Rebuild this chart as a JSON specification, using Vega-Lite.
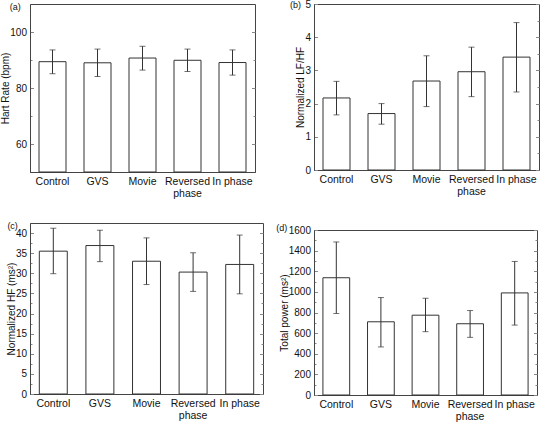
{
  "$schema": "https://vega.github.io/schema/vega-lite/v6.json",
  "background": "white",
  "padding": {"left": 0, "top": -2, "right": 2, "bottom": 0},
  "config": {
    "font": "Liberation Sans",
    "view": {"stroke": "#444", "strokeWidth": 1},
    "axis": {
      "grid": false,
      "domainColor": "#444",
      "tickColor": "#888",
      "labelFont": "Liberation Sans",
      "labelFontSize": 10.5,
      "labelColor": "#111",
      "labelLineHeight": 12,
      "titleFont": "Liberation Sans",
      "titleFontSize": 10,
      "titleFontWeight": "normal",
      "titleColor": "#111",
      "labelFlush": false,
      "labelOverlap": false
    },
    "axisY": {"labelFontSize": 10, "labelPadding": 7, "titlePadding": -1},
    "title": {"fontSize": 9, "fontWeight": "normal", "anchor": "start", "frame": "bounds", "color": "#111", "font": "Liberation Sans", "offset": -8}
  },
  "datasets": {
    "hr": [
      {"cond": "Control", "mean": 89.4, "lo": 85.1, "hi": 93.6},
      {"cond": "GVS", "mean": 89.0, "lo": 84.1, "hi": 93.9},
      {"cond": "Movie", "mean": 90.7, "lo": 86.4, "hi": 94.9},
      {"cond": "Reversed phase", "mean": 89.9, "lo": 85.9, "hi": 93.9},
      {"cond": "In phase", "mean": 89.1, "lo": 84.6, "hi": 93.6}
    ],
    "lfhf": [
      {"cond": "Control", "mean": 2.17, "lo": 1.66, "hi": 2.67},
      {"cond": "GVS", "mean": 1.70, "lo": 1.38, "hi": 2.00},
      {"cond": "Movie", "mean": 2.68, "lo": 1.91, "hi": 3.44},
      {"cond": "Reversed phase", "mean": 2.96, "lo": 2.21, "hi": 3.70},
      {"cond": "In phase", "mean": 3.40, "lo": 2.35, "hi": 4.44}
    ],
    "hf": [
      {"cond": "Control", "mean": 35.5, "lo": 29.9, "hi": 41.2},
      {"cond": "GVS", "mean": 36.9, "lo": 32.9, "hi": 40.7},
      {"cond": "Movie", "mean": 33.0, "lo": 27.2, "hi": 38.8},
      {"cond": "Reversed phase", "mean": 30.3, "lo": 25.5, "hi": 35.1},
      {"cond": "In phase", "mean": 32.2, "lo": 24.9, "hi": 39.5}
    ],
    "tp": [
      {"cond": "Control", "mean": 1137, "lo": 790, "hi": 1484},
      {"cond": "GVS", "mean": 710, "lo": 466, "hi": 945},
      {"cond": "Movie", "mean": 774, "lo": 614, "hi": 938},
      {"cond": "Reversed phase", "mean": 691, "lo": 559, "hi": 819},
      {"cond": "In phase", "mean": 990, "lo": 678, "hi": 1295}
    ]
  },
  "spacing": 11,
  "hconcat": [
    {
      "spacing": 22,
      "vconcat": [
        {
          "width": 225, "height": 168,
          "title": {"text": "(a)", "dx": 9},
          "data": {"name": "hr"},
          "layer": [
            {
              "mark": {"type": "bar", "fill": "white", "stroke": "#333", "strokeWidth": 1},
              "encoding": {
                "x": {"field": "cond", "type": "nominal", "sort": null, "scale": {"paddingInner": 0.4, "paddingOuter": 0.2},
                      "axis": {"title": null, "labelAngle": 0, "tickSize": -3, "labelPadding": 7, "labelExpr": "datum.label == 'Reversed phase' ? ['Reversed', 'phase'] : datum.label"}},
                "y": {"field": "mean", "type": "quantitative", "scale": {"domain": [50, 110], "nice": false, "zero": false},
                      "axis": {"title": "Hart Rate (bpm)", "values": [60, 70, 80, 90, 100],
                               "labelExpr": "(datum.value == 60 || datum.value == 80 || datum.value == 100) ? datum.label : ''",
                               "tickSize": {"condition": {"test": "datum.value % 20 == 0", "value": -3.5}, "value": -2}}},
                "y2": {"datum": 50}
              }
            },
            {
              "mark": {"type": "errorbar", "ticks": {"size": 6, "color": "#333"}, "rule": {"color": "#333"}},
              "encoding": {
                "x": {"field": "cond", "type": "nominal", "sort": null},
                "y": {"field": "lo", "type": "quantitative",
                      "axis": {"orient": "right", "title": null, "labels": false, "domain": false, "values": [60, 70, 80, 90, 100],
                               "tickSize": {"condition": {"test": "datum.value % 20 == 0", "value": -3.5}, "value": -2}}},
                "y2": {"field": "hi"}
              }
            }
          ],
          "resolve": {"axis": {"y": "independent"}}
        },
        {
          "width": 233, "height": 171,
          "title": {"text": "(c)", "dx": 1},
          "data": {"name": "hf"},
          "layer": [
            {
              "mark": {"type": "bar", "fill": "white", "stroke": "#333", "strokeWidth": 1},
              "encoding": {
                "x": {"field": "cond", "type": "nominal", "sort": null, "scale": {"paddingInner": 0.4, "paddingOuter": 0.2},
                      "axis": {"title": null, "labelAngle": 0, "tickSize": -3, "labelPadding": 7, "labelExpr": "datum.label == 'Reversed phase' ? ['Reversed', 'phase'] : datum.label"}},
                "y": {"field": "mean", "type": "quantitative", "scale": {"domain": [0, 42.5], "nice": false},
                      "axis": {"title": "Normalized HF (ms²)", "values": [0, 2.5, 5, 7.5, 10, 12.5, 15, 17.5, 20, 22.5, 25, 27.5, 30, 32.5, 35, 37.5, 40],
                               "labelExpr": "datum.value % 5 == 0 ? datum.label : ''",
                               "tickSize": {"condition": {"test": "datum.value % 5 == 0", "value": -3.5}, "value": -2}}}
              }
            },
            {
              "mark": {"type": "errorbar", "ticks": {"size": 6, "color": "#333"}, "rule": {"color": "#333"}},
              "encoding": {
                "x": {"field": "cond", "type": "nominal", "sort": null},
                "y": {"field": "lo", "type": "quantitative",
                      "axis": {"orient": "right", "title": null, "labels": false, "domain": false, "values": [0, 2.5, 5, 7.5, 10, 12.5, 15, 17.5, 20, 22.5, 25, 27.5, 30, 32.5, 35, 37.5, 40],
                               "tickSize": {"condition": {"test": "datum.value % 5 == 0", "value": -3.5}, "value": -2}}},
                "y2": {"field": "hi"}
              }
            }
          ],
          "resolve": {"axis": {"y": "independent"}}
        }
      ]
    },
    {
      "spacing": 26,
      "vconcat": [
        {
          "width": 225, "height": 166,
          "title": {"text": "(b)", "dx": -6, "offset": -11},
          "data": {"name": "lfhf"},
          "layer": [
            {
              "mark": {"type": "bar", "fill": "white", "stroke": "#333", "strokeWidth": 1},
              "encoding": {
                "x": {"field": "cond", "type": "nominal", "sort": null, "scale": {"paddingInner": 0.4, "paddingOuter": 0.2},
                      "axis": {"title": null, "labelAngle": 0, "tickSize": -3, "labelPadding": 7, "labelExpr": "datum.label == 'Reversed phase' ? ['Reversed', 'phase'] : datum.label"}},
                "y": {"field": "mean", "type": "quantitative", "scale": {"domain": [0, 5], "nice": false},
                      "axis": {"title": "Normalized LF/HF", "values": [0, 0.5, 1, 1.5, 2, 2.5, 3, 3.5, 4, 4.5, 5], "format": "d",
                               "labelExpr": "datum.value % 1 == 0 ? datum.label : ''",
                               "tickSize": {"condition": {"test": "datum.value % 1 == 0", "value": -3.5}, "value": -2}}}
              }
            },
            {
              "mark": {"type": "errorbar", "ticks": {"size": 6, "color": "#333"}, "rule": {"color": "#333"}},
              "encoding": {
                "x": {"field": "cond", "type": "nominal", "sort": null},
                "y": {"field": "lo", "type": "quantitative",
                      "axis": {"orient": "right", "title": null, "labels": false, "domain": false, "values": [0, 0.5, 1, 1.5, 2, 2.5, 3, 3.5, 4, 4.5, 5],
                               "tickSize": {"condition": {"test": "datum.value % 1 == 0", "value": -3.5}, "value": -2}}},
                "y2": {"field": "hi"}
              }
            }
          ],
          "resolve": {"axis": {"y": "independent"}}
        },
        {
          "width": 223, "height": 165,
          "title": {"text": "(d)", "dx": -3},
          "data": {"name": "tp"},
          "layer": [
            {
              "mark": {"type": "bar", "fill": "white", "stroke": "#333", "strokeWidth": 1},
              "encoding": {
                "x": {"field": "cond", "type": "nominal", "sort": null, "scale": {"paddingInner": 0.4, "paddingOuter": 0.2},
                      "axis": {"title": null, "labelAngle": 0, "tickSize": -3, "labelPadding": 7, "labelExpr": "datum.label == 'Reversed phase' ? ['Reversed', 'phase'] : datum.label"}},
                "y": {"field": "mean", "type": "quantitative", "scale": {"domain": [0, 1600], "nice": false},
                      "axis": {"title": "Total power (ms²)", "values": [0, 100, 200, 300, 400, 500, 600, 700, 800, 900, 1000, 1100, 1200, 1300, 1400, 1500, 1600],
                               "labelExpr": "datum.value % 200 == 0 ? datum.label : ''", "format": "d",
                               "tickSize": {"condition": {"test": "datum.value % 200 == 0", "value": -3.5}, "value": -2}}}
              }
            },
            {
              "mark": {"type": "errorbar", "ticks": {"size": 6, "color": "#333"}, "rule": {"color": "#333"}},
              "encoding": {
                "x": {"field": "cond", "type": "nominal", "sort": null},
                "y": {"field": "lo", "type": "quantitative",
                      "axis": {"orient": "right", "title": null, "labels": false, "domain": false, "values": [0, 100, 200, 300, 400, 500, 600, 700, 800, 900, 1000, 1100, 1200, 1300, 1400, 1500, 1600],
                               "tickSize": {"condition": {"test": "datum.value % 200 == 0", "value": -3.5}, "value": -2}}},
                "y2": {"field": "hi"}
              }
            }
          ],
          "resolve": {"axis": {"y": "independent"}}
        }
      ]
    }
  ]
}
